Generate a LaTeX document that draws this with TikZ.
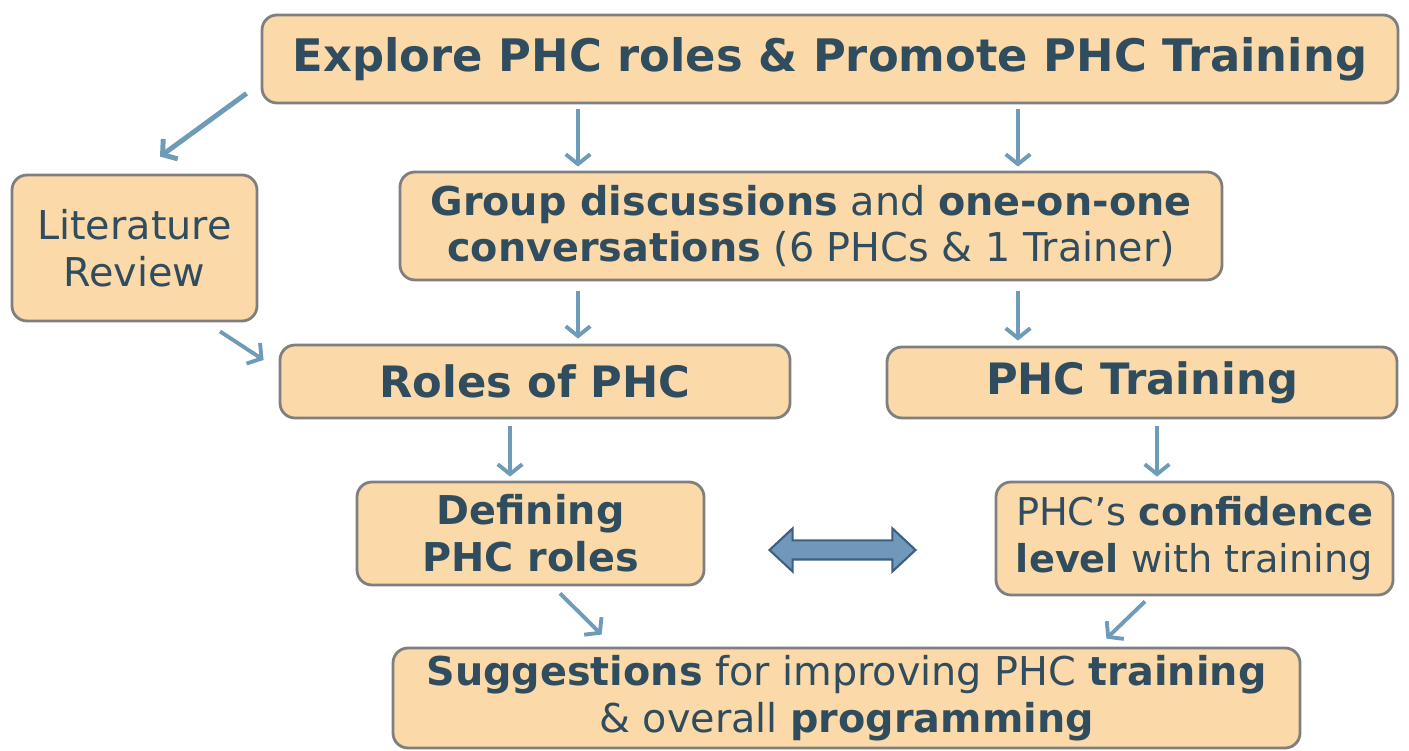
\documentclass[tikz,border=0pt]{standalone}
\usepackage{fontspec}
\setmainfont{DejaVu Sans}
\usetikzlibrary{arrows.meta,shapes.arrows}
\definecolor{boxfill}{HTML}{FCD9A8}
\definecolor{boxline}{HTML}{7F7F7F}
\definecolor{ink}{HTML}{2F4D5E}
\definecolor{flowblue}{HTML}{6D9BB8}
\definecolor{linkfill}{HTML}{7098BA}
\definecolor{linkline}{HTML}{3D5F82}

\begin{document}
\begin{tikzpicture}[
    box/.style={shape=rectangle,rounded corners=0.15cm,draw=boxline,fill=boxfill,line width=0.8pt,text=ink,align=center,inner sep=0pt},
    txt/.style={font=\fontsize{11.3}{13.3}\selectfont},
    flow/.style={draw=flowblue,line width=1.1pt,-{Straight Barb[length=2.8pt,width=7pt]}}
]
        \useasboundingbox (0,0) rectangle (14.09,7.51);

        \node[box,minimum width=11.36cm,minimum height=0.88cm,font=\fontsize{12.75}{14}\selectfont\bfseries] (top) at (8.30,6.92) {Explore PHC roles \& Promote PHC Training};
        \node[box,txt,minimum width=2.45cm,minimum height=1.46cm] (lit) at (1.345,5.03) {Literature\\Review};
        \node[box,txt,minimum width=8.22cm,minimum height=1.08cm] (grp) at (8.11,5.25) {\textbf{Group discussions} and \textbf{one-on-one}\\\textbf{conversations} (6 PHCs \& 1 Trainer)};
        \node[box,minimum width=5.10cm,minimum height=0.73cm,font=\fontsize{12.3}{14}\selectfont\bfseries] (roles) at (5.35,3.695) {Roles of PHC};
        \node[box,minimum width=5.10cm,minimum height=0.71cm,font=\fontsize{12.3}{14}\selectfont\bfseries] (train) at (11.42,3.685) {PHC Training};
        \node[box,txt,minimum width=3.47cm,minimum height=1.03cm] (defn) at (5.305,2.175) {\textbf{Defining}\\\textbf{PHC roles}};
        \node[box,txt,font=\fontsize{10.9}{13.3}\selectfont,minimum width=3.97cm,minimum height=1.13cm] (conf) at (11.945,2.125) {PHC’s \textbf{confidence}\\\textbf{level} with training};
        \node[box,txt,minimum width=9.07cm,minimum height=1.00cm] (sugg) at (8.465,0.53) {\textbf{Suggestions} for improving PHC \textbf{training}\\\& overall \textbf{programming}};

        \node[double arrow,draw=linkline,fill=linkfill,line width=0.6pt,inner sep=0pt,minimum height=1.46cm,double arrow head extend=0.12cm,double arrow tip angle=86] (link) at (8.425,2.01) {\rule{0pt}{0.17cm}};

        \coordinate (colA) at (5.78,0);
        \coordinate (colB) at (10.18,0);
        \coordinate (colC) at (5.10,0);
        \coordinate (colD) at (11.57,0);

        \draw[flow,shorten <=0.05cm,shorten >=0.04cm] (top.south -| colA) -- (grp.north -| colA);
        \draw[flow,shorten <=0.05cm,shorten >=0.04cm] (top.south -| colB) -- (grp.north -| colB);
        \draw[flow,shorten <=0.10cm,shorten >=0.05cm] (grp.south -| colA) -- (roles.north -| colA);
        \draw[flow,shorten <=0.10cm,shorten >=0.05cm] (grp.south -| colB) -- (train.north -| colB);
        \draw[flow,shorten <=0.07cm,shorten >=0.04cm] (roles.south -| colC) -- (defn.north -| colC);
        \draw[flow,shorten <=0.07cm,shorten >=0.04cm] (train.south -| colD) -- (conf.north -| colD);
        \draw[flow,line width=1.4pt] ([shift={(-0.14,0.11)}]top.south west) -- ([shift={(0.255,0.17)}]lit.north);
        \draw[flow] ([shift={(0.855,-0.09)}]lit.south) -- ([shift={(-0.15,0.215)}]roles.west);
        \draw[flow] ([shift={(0.295,-0.07)}]defn.south) -- ([shift={(2.10,0.12)}]sugg.north west);
        \draw[flow] ([shift={(-0.495,-0.05)}]conf.south) -- ([shift={(-1.95,0.08)}]sugg.north east);
\end{tikzpicture}
\end{document}
